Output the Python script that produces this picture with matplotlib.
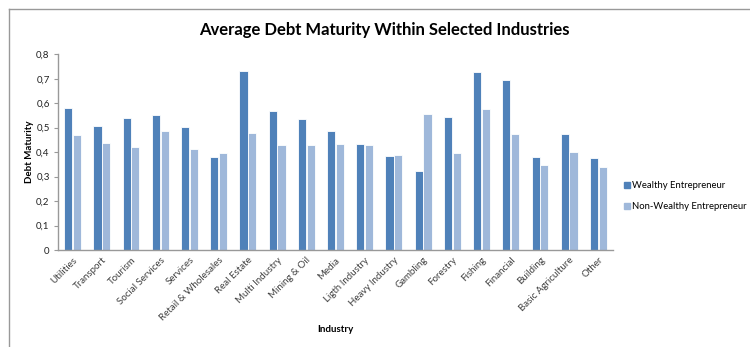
import matplotlib
matplotlib.use("Agg")
import matplotlib.pyplot as plt
import numpy as np
from matplotlib.lines import Line2D

plt.rcParams['font.family'] = ['Lato', 'DejaVu Sans']

industries = ["Utilities", "Transport", "Tourism", "Social Services", "Services",
              "Retail & Wholesales", "Real Estate", "Multi Industry", "Mining & Oil",
              "Media", "Ligth Industry", "Heavy Industry", "Gambling", "Forestry",
              "Fishing", "Financial", "Building", "Basic Agriculture", "Other"]
wealthy = [0.580, 0.508, 0.540, 0.552, 0.504, 0.382, 0.732, 0.568, 0.537, 0.487,
           0.433, 0.386, 0.322, 0.545, 0.728, 0.695, 0.382, 0.473, 0.375]
non_wealthy = [0.469, 0.437, 0.422, 0.485, 0.414, 0.398, 0.477, 0.429, 0.429, 0.433,
               0.429, 0.390, 0.557, 0.398, 0.578, 0.473, 0.346, 0.402, 0.339]
series_names = ["Wealthy Entrepreneur", "Non-Wealthy Entrepreneur"]
yticks = [0, 0.1, 0.2, 0.3, 0.4, 0.5, 0.6, 0.7, 0.8]
ytick_labels = ["0", "0,1", "0,2", "0,3", "0,4", "0,5", "0,6", "0,7", "0,8"]

c_w = "#4F81B9"
c_nw = "#9FB8DA"

fig = plt.figure(figsize=(7.5, 3.47), dpi=100)
ax = fig.add_axes([58/750, (347-250)/347, (613-58)/750, (250-54.3)/347])

x = np.arange(len(industries))
bw = 0.28
ax.bar(x - bw/2 - 0.01, wealthy, bw, color=c_w, edgecolor="white", linewidth=0.6, zorder=2)
ax.bar(x + bw/2 + 0.01, non_wealthy, bw, color=c_nw, edgecolor="white", linewidth=0.6, zorder=2)

ax.set_xlim(-0.5, len(industries) - 0.5)
ax.set_ylim(0, 0.8)
ax.set_yticks(yticks)
ax.set_yticklabels(ytick_labels, fontsize=7, color="#222222")
ax.set_xticks(x)
ax.set_xticklabels(industries, rotation=45, ha="right", rotation_mode="anchor",
                   fontsize=7, color="#404040")
ax.tick_params(axis="x", length=0, pad=4)
ax.tick_params(axis="y", length=3, width=0.8, color="#999999", pad=3)
for s in ["top", "right"]:
    ax.spines[s].set_visible(False)
for s in ["left", "bottom"]:
    ax.spines[s].set_color("#999999")
    ax.spines[s].set_linewidth(1.0)

fig.text(30/750, 1 - 152/347, "Debt Maturity", fontsize=7, fontweight="bold",
         rotation=90, ha="center", va="center")
fig.text(335/750, 1 - 330/347, "Industry", fontsize=7, fontweight="bold", ha="center", va="center")
fig.text(384/750, 1 - 30/347, "Average Debt Maturity Within Selected Industries",
         fontsize=12, fontweight="bold", ha="center", va="center")

handles = [Line2D([], [], marker="s", linestyle="none", markersize=4.2, color=c_w),
           Line2D([], [], marker="s", linestyle="none", markersize=4.2, color=c_nw)]
fig.legend(handles, series_names, loc="center left", bbox_to_anchor=(622/750, 1 - 196/347),
           frameon=False, fontsize=6.8, handletextpad=0.05, labelspacing=1.3, handlelength=1.0,
           borderpad=0, borderaxespad=0)

# chart area border (top and left visible)
fig.add_artist(Line2D([9/750, 1], [1 - 9/347, 1 - 9/347], transform=fig.transFigure, color="#999999", lw=1))
fig.add_artist(Line2D([9/750, 9/750], [0, 1 - 9/347], transform=fig.transFigure, color="#999999", lw=1))

fig.savefig("out.png", dpi=100)
